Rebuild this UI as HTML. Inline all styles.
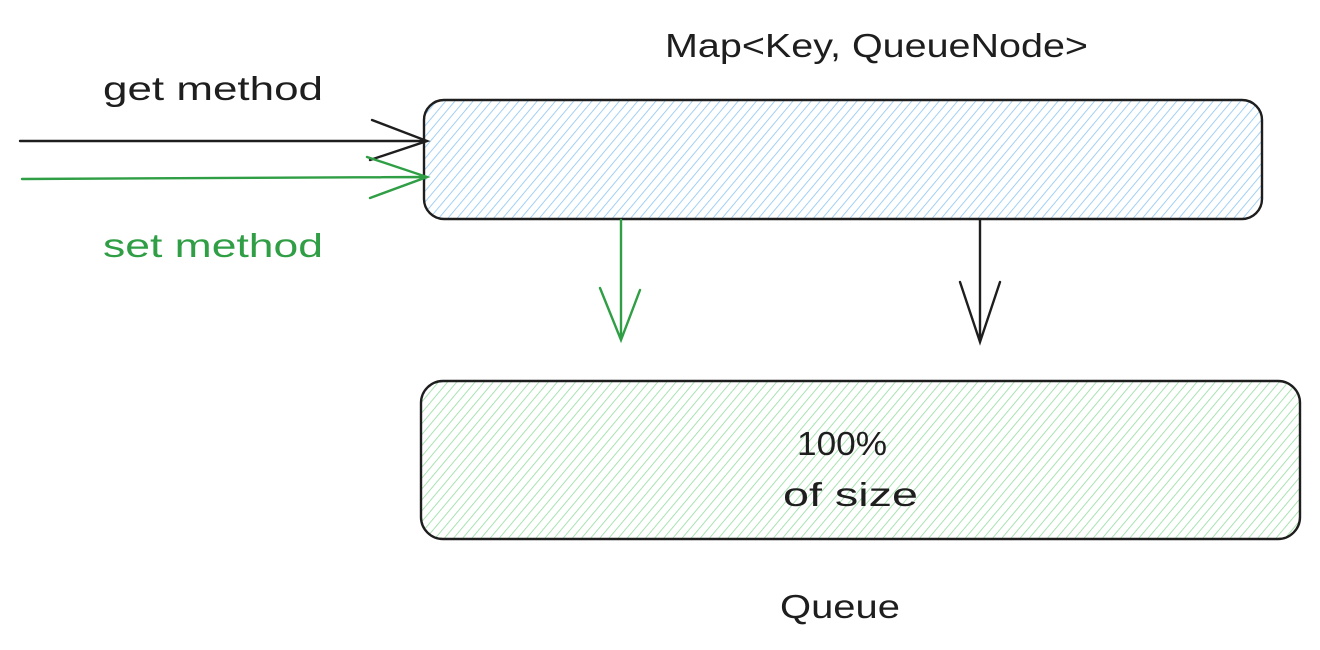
<!DOCTYPE html>
<html><head><style>
html,body{margin:0;padding:0;background:#fff;width:1320px;height:650px;overflow:hidden}
</style></head><body>
<svg width="1320" height="650" xmlns="http://www.w3.org/2000/svg" font-family="Liberation Sans, sans-serif">
<defs>
<pattern id="hb" width="7" height="7" patternUnits="userSpaceOnUse" patternTransform="rotate(40)">
<line x1="0" y1="0" x2="0" y2="7" stroke="#8cc4f2" stroke-width="1.6"/></pattern>
<pattern id="hg" width="7" height="7" patternUnits="userSpaceOnUse" patternTransform="rotate(40)">
<line x1="0" y1="0" x2="0" y2="7" stroke="#94dc9e" stroke-width="1.6"/></pattern>
</defs>
<rect x="424" y="100" width="838" height="119" rx="20" fill="url(#hb)" stroke="#1e1e1e" stroke-width="2.4"/>
<rect x="421" y="381" width="879" height="158" rx="22" fill="url(#hg)" stroke="#1e1e1e" stroke-width="2.4"/>
<g stroke="#1e1e1e" stroke-width="2.4" fill="none" stroke-linecap="round">
<path d="M20 141 L427 141 M372 120 L427 141 L370 160"/>
<path d="M980 220 L980 342 M960 282 L980 342 L1000 282"/>
</g>
<g stroke="#2f9e44" stroke-width="2.4" fill="none" stroke-linecap="round">
<path d="M22 179 L427 177 M367 157 L427 177 L370 198"/>
<path d="M621 220 L621 340 M600 288 L621 340 L640 290"/>
</g>
<g font-size="33" fill="#1e1e1e" lengthAdjust="spacingAndGlyphs">
<text x="103" y="100" textLength="220" lengthAdjust="spacingAndGlyphs">get method</text>
<text x="103" y="257" textLength="220" lengthAdjust="spacingAndGlyphs" fill="#2f9e44">set method</text>
<text x="665" y="57" textLength="423" lengthAdjust="spacingAndGlyphs">Map&lt;Key, QueueNode&gt;</text>
<text x="797" y="455" textLength="90" lengthAdjust="spacingAndGlyphs">100%</text>
<text x="783" y="506" textLength="135" lengthAdjust="spacingAndGlyphs">of size</text>
<text x="780" y="618" textLength="120" lengthAdjust="spacingAndGlyphs">Queue</text>
</g>
</svg>
</body></html>
